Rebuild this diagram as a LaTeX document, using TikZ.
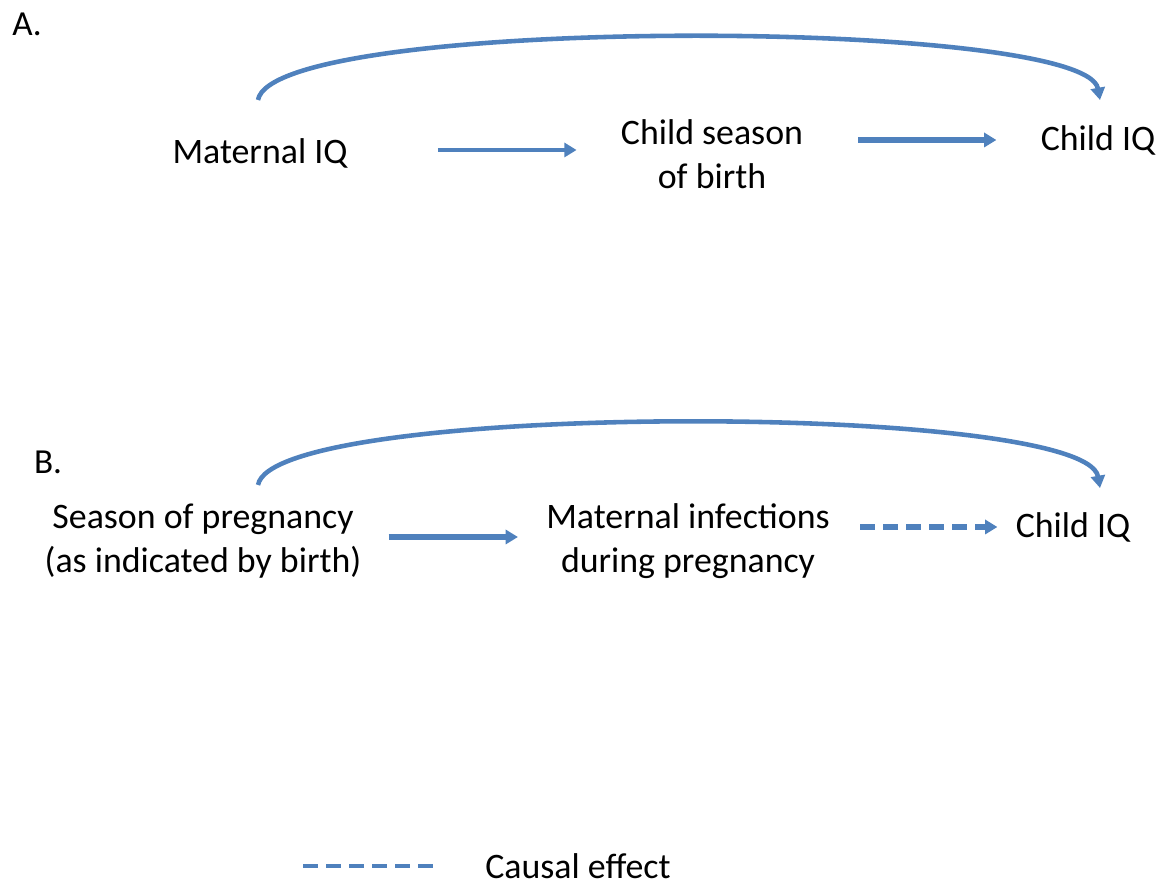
\documentclass[tikz,border=0pt]{standalone}
\usepackage{fontspec}
\setmainfont{Carlito}
\usetikzlibrary{arrows.meta}
\definecolor{causeblue}{HTML}{4F81BD}
\tikzset{
    var/.style={font=\fontsize{20.4}{25}\selectfont, align=center, inner sep=0pt},
    panel/.style={font=\fontsize{20}{25}\selectfont, inner sep=0pt},
    effect/.style={draw=causeblue, line width=#1, -{Triangle[length=7pt,width=8pt]}},
    effect/.default=2.6pt,
    maybe/.style={effect=3pt, dash pattern=on 0.3cm off 0.16cm},
}

\begin{document}
\begin{tikzpicture}
    \useasboundingbox (0,0) rectangle (23.4,17.72);

    % panel A
    \node[panel] (labA) at (0.54,17.24) {A.};
    \node[var] (matIQ) at (5.2,14.66) {Maternal IQ};
    \node[var] (birthSeason) at (14.24,14.64) {Child season\\of birth};
    \node[var] (childA) at (21.96,14.92) {Child IQ};
    \coordinate (arcAfrom) at (5.16,15.72);
    \coordinate (arcAto) at (22.0,15.72);

    \draw[effect=1.8pt, shorten <=1.8cm, shorten >=0.88cm]
        ([yshift=0.06cm]matIQ.east) -- ([yshift=0.06cm]matIQ.east -| birthSeason.west);
    \draw[effect=3pt, shorten <=1.1cm, shorten >=0.88cm]
        (birthSeason.east |- childA.west) -- (childA.west);
    \draw[effect] (arcAfrom) .. controls +(0.3,1.7) and +(-0.3,1.65) .. (arcAto);

    % panel B
    \node[panel] (labB) at (0.96,8.48) {B.};
    \node[var] (pregSeason) at (4.06,6.9) {Season of pregnancy\\(as indicated by birth)};
    \node[var] (infect) at (13.76,6.9) {Maternal infections\\during pregnancy};
    \node[var] (childB) at (21.46,7.18) {Child IQ};
    \coordinate (arcBfrom) at (5.16,8.02);
    \coordinate (arcBto) at (22.0,7.96);

    \draw[effect=3pt, shorten <=0.54cm, shorten >=0.56cm]
        ([yshift=0.08cm]pregSeason.east) -- ([yshift=0.08cm]pregSeason.east -| infect.west);
    \draw[maybe, shorten <=0.6cm, shorten >=0.36cm]
        (infect.east |- childB.west) -- (childB.west);
    \draw[effect] (arcBfrom) .. controls +(0.3,1.68) and +(-0.3,1.72) .. (arcBto);

    % legend
    \coordinate (keyFrom) at (6.06,0.4);
    \coordinate (keyTo) at (8.8,0.4);
    \node[var, anchor=west] (keyText) at (9.7,0.4) {Causal effect};
    \draw[draw=causeblue, line width=2pt, dash pattern=on 0.3cm off 0.16cm] (keyFrom) -- (keyTo);
\end{tikzpicture}
\end{document}
